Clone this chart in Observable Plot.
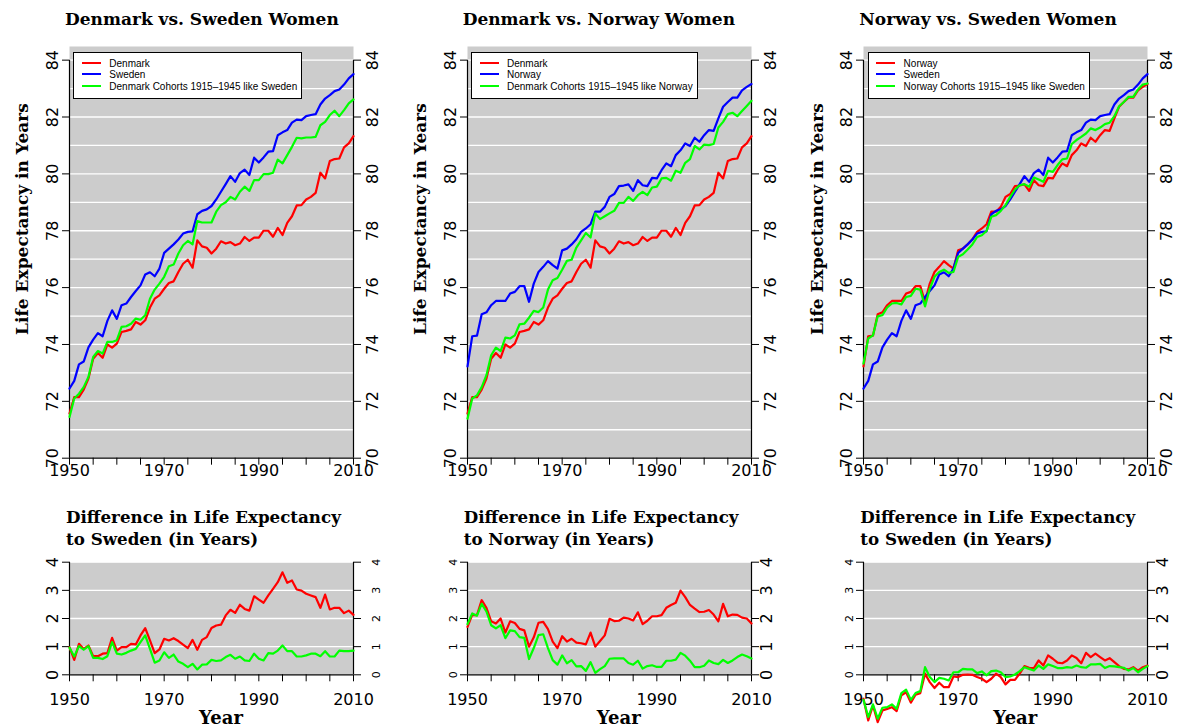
<!DOCTYPE html>
<html><head><meta charset="utf-8">
<script src="https://cdn.jsdelivr.net/npm/d3@7"></script>
<script src="https://cdn.jsdelivr.net/npm/@observablehq/plot@0.6"></script>
<style>
html,body{margin:0;padding:0;background:#fff;}
#root{position:relative;width:1182px;height:727px;overflow:hidden;background:#fff;}
.panel{position:absolute;}
.title{position:absolute;font-family:"DejaVu Serif",serif;font-weight:bold;white-space:nowrap;color:#000;}
.legend{position:absolute;background:#fff;border:1px solid #000;padding:5px 4px 5.5px 7.5px;font-family:"Liberation Sans",Arial,sans-serif;font-size:10px;line-height:11.5px;color:#000;white-space:nowrap;}
.legend .sw{display:inline-block;width:19px;height:2px;vertical-align:middle;margin-right:8.5px;position:relative;top:-1px;}
</style></head><body><div id="root"></div>
<script>
// ---- categories / ticks ----
const years = d3.range(1950, 2011);
const xTicks = d3.range(1950, 2011, 5);
const xLabels = [1950, 1970, 1990, 2010];
const topYTicks = [70, 72, 74, 76, 78, 80, 82, 84];
const topGrid = [70, 71, 72, 73, 74, 75, 76, 77, 78, 79, 80, 81, 82, 83, 84];
const botYTicks = [0, 1, 2, 3, 4];

// ---- life expectancy (women), 1950-2010 ----
const denmark = [
  71.57, 72.15, 72.15, 72.41, 72.80, 73.50, 73.70, 73.53, 74.00, 73.89,
  74.03, 74.44, 74.48, 74.53, 74.79, 74.70, 74.85, 75.30, 75.61, 75.73,
  75.96, 76.16, 76.22, 76.55, 76.84, 76.98, 76.70, 77.66, 77.45, 77.40,
  77.20, 77.37, 77.63, 77.55, 77.60, 77.49, 77.55, 77.78, 77.64, 77.76,
  77.76, 78.00, 78.00, 77.79, 78.10, 77.85, 78.28, 78.51, 78.89, 78.90,
  79.10, 79.19, 79.33, 80.04, 79.84, 80.45, 80.52, 80.54, 80.93, 81.07, 81.33];
const sweden = [
  72.45, 72.72, 73.30, 73.40, 73.90, 74.17, 74.40, 74.29, 74.83, 75.20,
  74.90, 75.38, 75.44, 75.67, 75.88, 76.08, 76.46, 76.54, 76.40, 76.67,
  77.22, 77.37, 77.52, 77.69, 77.90, 77.96, 77.98, 78.58, 78.70, 78.75,
  78.87, 79.10, 79.37, 79.64, 79.92, 79.72, 80.03, 80.15, 79.96, 80.57,
  80.40, 80.58, 80.78, 80.80, 81.36, 81.46, 81.54, 81.80, 81.91, 81.89,
  82.03, 82.07, 82.10, 82.44, 82.65, 82.77, 82.91, 82.97, 83.14, 83.36, 83.51];
const norway = [
  73.23, 74.29, 74.31, 75.06, 75.13, 75.38, 75.53, 75.53, 75.53, 75.79,
  75.85, 76.05, 76.05, 75.50, 76.14, 76.55, 76.73, 76.93, 76.79, 76.67,
  77.31, 77.37, 77.52, 77.70, 77.96, 78.08, 78.23, 78.67, 78.67, 78.84,
  79.19, 79.29, 79.57, 79.59, 79.63, 79.40, 79.78, 79.60, 79.57, 79.86,
  79.84, 80.13, 80.37, 80.27, 80.66, 80.83, 81.07, 80.98, 81.27, 81.13,
  81.36, 81.54, 81.51, 81.95, 82.36, 82.53, 82.68, 82.68, 82.94, 83.06, 83.16];
const dkLikeSweden = [
  71.45, 72.10, 72.27, 72.50, 72.86, 73.56, 73.77, 73.68, 74.09, 74.09,
  74.15, 74.62, 74.64, 74.73, 74.91, 74.87, 75.03, 75.61, 75.93, 76.14,
  76.38, 76.75, 76.81, 77.20, 77.49, 77.64, 77.52, 78.34, 78.29, 78.29,
  78.29, 78.67, 78.90, 79.00, 79.19, 79.10, 79.37, 79.55, 79.40, 79.78,
  79.78, 79.99, 79.99, 80.04, 80.50, 80.37, 80.66, 80.95, 81.27, 81.25,
  81.28, 81.28, 81.30, 81.71, 81.83, 82.07, 82.22, 82.03, 82.24, 82.48, 82.62];
const dkLikeNorway = [
  71.39, 72.10, 72.21, 72.50, 72.92, 73.62, 73.89, 73.77, 74.24, 74.21,
  74.32, 74.71, 74.73, 74.94, 75.18, 75.14, 75.30, 75.93, 76.26, 76.34,
  76.63, 76.94, 76.98, 77.41, 77.66, 77.92, 77.76, 78.61, 78.41, 78.51,
  78.61, 78.70, 78.98, 78.98, 79.19, 79.05, 79.25, 79.37, 79.25, 79.52,
  79.55, 79.84, 79.86, 79.76, 80.11, 80.04, 80.39, 80.52, 80.98, 80.86,
  81.03, 81.01, 81.05, 81.63, 81.83, 82.10, 82.15, 82.03, 82.21, 82.39, 82.57];
const noLikeSweden = [
  73.33, 74.21, 74.32, 74.99, 75.03, 75.30, 75.44, 75.46, 75.41, 75.67,
  75.71, 75.96, 75.93, 75.34, 75.96, 76.38, 76.55, 76.63, 76.52, 76.55,
  77.08, 77.17, 77.34, 77.52, 77.78, 77.84, 77.99, 78.49, 78.55, 78.70,
  78.90, 79.19, 79.45, 79.60, 79.64, 79.55, 79.87, 79.80, 79.72, 80.11,
  80.07, 80.31, 80.51, 80.54, 81.05, 81.19, 81.30, 81.42, 81.60, 81.54,
  81.63, 81.75, 81.80, 82.03, 82.38, 82.53, 82.71, 82.71, 82.97, 83.14, 83.18];

// ---- differences (years) ----
const diffSweDen = [
  0.98, 0.53, 1.10, 0.92, 1.04, 0.66, 0.66, 0.75, 0.77, 1.31,
  0.86, 0.98, 0.98, 1.10, 1.08, 1.40, 1.66, 1.22, 0.77, 0.90,
  1.28, 1.22, 1.30, 1.20, 1.07, 0.95, 1.24, 0.89, 1.24, 1.34,
  1.66, 1.75, 1.78, 2.11, 2.31, 2.20, 2.49, 2.34, 2.28, 2.79,
  2.67, 2.56, 2.82, 3.05, 3.29, 3.64, 3.27, 3.35, 3.03, 2.99,
  2.88, 2.82, 2.76, 2.38, 2.85, 2.32, 2.38, 2.38, 2.19, 2.28, 2.13];
const diffSweDenCoh = [
  0.96, 0.65, 1.02, 0.89, 1.02, 0.60, 0.60, 0.56, 0.66, 1.16,
  0.75, 0.72, 0.78, 0.86, 0.92, 1.16, 1.40, 0.92, 0.43, 0.51,
  0.80, 0.60, 0.72, 0.47, 0.39, 0.27, 0.39, 0.19, 0.36, 0.37,
  0.53, 0.49, 0.51, 0.63, 0.71, 0.57, 0.65, 0.51, 0.49, 0.75,
  0.57, 0.51, 0.77, 0.75, 0.86, 1.04, 0.84, 0.84, 0.65, 0.65,
  0.69, 0.75, 0.75, 0.66, 0.84, 0.65, 0.65, 0.86, 0.84, 0.84, 0.86];
const diffNorDen = [
  1.70, 2.13, 2.12, 2.65, 2.38, 1.90, 1.82, 2.00, 1.50, 1.90,
  1.84, 1.63, 1.58, 1.00, 1.33, 1.85, 1.88, 1.62, 1.18, 0.95,
  1.37, 1.18, 1.28, 1.14, 1.12, 1.08, 1.50, 1.00, 1.20, 1.40,
  1.99, 1.91, 1.92, 2.03, 2.00, 1.93, 2.22, 1.80, 1.92, 2.08,
  2.08, 2.12, 2.38, 2.48, 2.56, 2.99, 2.76, 2.48, 2.35, 2.23,
  2.24, 2.30, 2.14, 1.90, 2.52, 2.08, 2.14, 2.13, 2.03, 2.00, 1.82];
const diffNorDenCoh = [
  1.80, 2.18, 2.10, 2.52, 2.25, 1.76, 1.65, 1.76, 1.30, 1.58,
  1.55, 1.34, 1.31, 0.56, 0.95, 1.41, 1.44, 0.95, 0.52, 0.36,
  0.69, 0.41, 0.52, 0.30, 0.31, 0.14, 0.45, 0.07, 0.20, 0.31,
  0.57, 0.58, 0.58, 0.58, 0.42, 0.36, 0.50, 0.22, 0.31, 0.34,
  0.28, 0.28, 0.50, 0.50, 0.54, 0.78, 0.68, 0.50, 0.27, 0.27,
  0.32, 0.51, 0.42, 0.38, 0.53, 0.42, 0.51, 0.63, 0.72, 0.66, 0.58];
const diffSweNor = [
  -0.85, -1.62, -1.09, -1.68, -1.27, -1.21, -1.15, -1.29, -0.73, -0.62,
  -0.99, -0.71, -0.65, 0.04, -0.26, -0.47, -0.28, -0.44, -0.44, -0.06,
  -0.08, 0.00, 0.01, 0.00, -0.08, -0.14, -0.26, -0.14, 0.04, -0.08,
  -0.34, -0.18, -0.18, 0.04, 0.31, 0.25, 0.24, 0.51, 0.33, 0.69,
  0.57, 0.43, 0.41, 0.51, 0.69, 0.60, 0.41, 0.78, 0.63, 0.75,
  0.63, 0.51, 0.59, 0.45, 0.31, 0.21, 0.19, 0.27, 0.15, 0.27, 0.33];
const diffSweNorCoh = [
  -0.89, -1.50, -1.05, -1.56, -1.17, -1.15, -1.05, -1.21, -0.65, -0.53,
  -0.89, -0.65, -0.58, 0.27, -0.08, -0.26, -0.11, -0.14, -0.20, 0.09,
  0.09, 0.21, 0.19, 0.19, 0.06, 0.12, -0.02, 0.13, 0.15, 0.09,
  -0.08, -0.06, 0.01, 0.13, 0.27, 0.21, 0.15, 0.33, 0.21, 0.37,
  0.31, 0.24, 0.24, 0.27, 0.25, 0.33, 0.27, 0.25, 0.37, 0.37,
  0.39, 0.24, 0.31, 0.30, 0.27, 0.25, 0.15, 0.24, 0.09, 0.21, 0.31];

// ---- text ----
const topTitles = ["Denmark vs. Sweden Women", "Denmark vs. Norway Women", "Norway vs. Sweden Women"];
const legendLabels = [
  ["Denmark", "Sweden", "Denmark Cohorts 1915\u20131945 like Sweden"],
  ["Denmark", "Norway", "Denmark Cohorts 1915\u20131945 like Norway"],
  ["Norway", "Sweden", "Norway Cohorts 1915\u20131945 like Sweden"]];
const botTitles = [
  ["Difference in Life Expectancy", "to Sweden (in Years)"],
  ["Difference in Life Expectancy", "to Norway (in Years)"],
  ["Difference in Life Expectancy", "to Sweden (in Years)"]];
const yTitle = "Life Expectancy in Years";
const xTitle = "Year";

const RED = "#ff0000", BLUE = "#0000ff", GREEN = "#00ff00";
const topColors = [RED, BLUE, GREEN];
const botColors = [RED, GREEN];

const topSeries = [
  [denmark, sweden, dkLikeSweden],
  [denmark, norway, dkLikeNorway],
  [norway, sweden, noLikeSweden]];
const botSeries = [
  [diffSweDen, diffSweDenCoh],
  [diffNorDen, diffNorDenCoh],
  [diffSweNor, diffSweNorCoh]];

// ---- layout ----
const plotLefts = [69, 466.7, 863.3];
const PW = 284, ML = 60, MR = 46;
const root = document.getElementById("root");

function makePanel(o) {
  const svg = Plot.plot({
    width: ML + PW + MR,
    height: o.mTop + o.ph + o.mBottom,
    marginLeft: ML, marginRight: MR, marginTop: o.mTop, marginBottom: o.mBottom,
    x: {domain: [1950, 2010]},
    y: {domain: o.yDomain},
    style: {background: "transparent", color: "black", fontFamily: "DejaVu Sans", overflow: "visible"},
    marks: [
      Plot.frame({fill: "#cccccc", stroke: "none"}),
      Plot.ruleY(o.grid, {stroke: "white", strokeWidth: 1.3}),
      Plot.ruleY([o.yAxis[0]], {stroke: "black", strokeWidth: 1.2}),
      Plot.ruleX([1950, 2010], {y1: o.yAxis[0], y2: o.yAxis[1], stroke: "black", strokeWidth: 1.2}),
      Plot.axisX({ticks: xTicks, tickSize: 7, tickPadding: o.xPad, label: null,
        tickFormat: d => xLabels.includes(d) ? String(d) : "", fontSize: 16, fontFamily: "DejaVu Sans"}),
      Plot.axisY({anchor: "left", ticks: o.yTicks, tickSize: 7, label: null, tickFormat: () => ""}),
      Plot.axisY({anchor: "right", ticks: o.yTicks, tickSize: 7, label: null, tickFormat: () => ""}),
      Plot.text(o.yTicks, {y: d => d, text: d => String(d), frameAnchor: "left", dx: -o.leftDx, rotate: -90,
        textAnchor: "middle", lineAnchor: "middle", fontSize: o.leftFont, fontFamily: "DejaVu Sans", fill: "black"}),
      Plot.text(o.yTicks, {y: d => d, text: d => String(d), frameAnchor: "right", dx: o.rightDx, rotate: -90,
        textAnchor: "middle", lineAnchor: "middle", fontSize: o.rightFont, fontFamily: "DejaVu Sans", fill: "black"}),
      ...o.series.map((vals, k) => Plot.line(years, {x: d => d, y: (d, i) => vals[i], stroke: o.colors[k], strokeWidth: 2.2}))
    ]
  });
  svg.classList.add("panel");
  svg.style.left = (o.plotLeft - ML) + "px";
  svg.style.top = o.top + "px";
  root.appendChild(svg);
}

function addDiv(cls, html, css) {
  const d = document.createElement("div");
  d.className = cls;
  d.innerHTML = html;
  Object.assign(d.style, css);
  root.appendChild(d);
  return d;
}

const botFonts = [[16, 11], [11, 16], [11, 16]];
const botDx = [[16.5, 22.5], [14.5, 15.5], [14.5, 15.5]];

for (let p = 0; p < 3; p++) {
  const L = plotLefts[p];
  // top panel
  makePanel({plotLeft: L, top: 0, mTop: 46, ph: 411.7, mBottom: 40.3,
    yDomain: [70, 84.48], grid: topGrid, yAxis: [70, 84], yTicks: topYTicks,
    leftFont: 16, rightFont: 16, leftDx: 16.5, rightDx: 19, xPad: -1,
    series: topSeries[p], colors: topColors});
  // bottom panel
  makePanel({plotLeft: L, top: 500, mTop: 61.7, ph: 112.6, mBottom: 52.7,
    yDomain: [0, 4], grid: botYTicks, yAxis: [0, 4], yTicks: botYTicks,
    leftFont: botFonts[p][0], rightFont: botFonts[p][1], leftDx: botDx[p][0], rightDx: botDx[p][1],
    xPad: 11.4, series: botSeries[p], colors: botColors});

  // titles
  addDiv("title", topTitles[p], {left: (L - 4) + "px", top: "10.6px", fontSize: "17px", lineHeight: "17px"});
  addDiv("title", botTitles[p].join("<br>"), {left: (L - 3) + "px", top: "506px", fontSize: "16.7px", lineHeight: "22px"});
  addDiv("title", xTitle, {left: (L + PW / 2 + 10 - 50) + "px", top: "709px", width: "100px", textAlign: "center", fontSize: "18px", lineHeight: "18px"});
  addDiv("title", yTitle, {left: (L - 54.7) + "px", top: "419px", width: "400px", textAlign: "center", fontSize: "17px", lineHeight: "17px",
    transformOrigin: "0 0", transform: "rotate(-90deg)"});

  // legend
  const rows = legendLabels[p].map((t, k) => `<div><span class="sw" style="background:${topColors[k]}"></span>${t}</div>`).join("");
  addDiv("legend", rows, {left: (L + 4.3) + "px", top: "51.5px"});
}
</script></body></html>
